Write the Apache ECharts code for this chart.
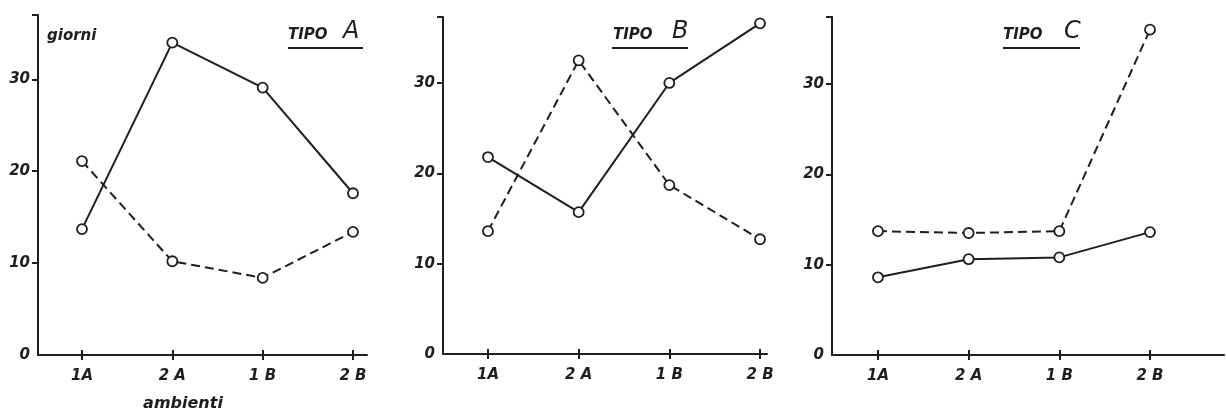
<!DOCTYPE html>
<html>
<head>
<meta charset="utf-8">
<script src="https://cdn.jsdelivr.net/npm/echarts@6/dist/echarts.min.js"></script>
<style>
html,body{margin:0;padding:0;background:#fff;}
#chart{width:1226px;height:412px;}
</style>
</head>
<body>
<div id="chart"></div>
<script>
const categories = ['1A', '2 A', '1 B', '2 B'];
const catPos = [0, 1, 2, 3];
const yTickLabels = [0, 10, 20, 30];
const panelTitles = ['A', 'B', 'C'];
const yAxisName = 'giorni';
const xAxisName = 'ambienti';

const tipoA_solid  = [13.7, 34.0, 29.1, 17.6];
const tipoA_dashed = [21.1, 10.2, 8.4, 13.4];
const tipoB_solid  = [21.8, 15.7, 30.0, 36.6];
const tipoB_dashed = [13.6, 32.5, 18.7, 12.7];
const tipoC_solid  = [8.6, 10.6, 10.8, 13.6];
const tipoC_dashed = [13.7, 13.5, 13.7, 36.0];

const INK = '#1e1e1e';
const FONT = 'DejaVu Sans';

const panels = [
  {grid:{left:38, top:15, width:329, height:340}, xmin:-0.487, xmax:3.155, ymax:37.0, solid:tipoA_solid, dashed:tipoA_dashed},
  {grid:{left:443, top:17, width:324, height:337}, xmin:-0.496, xmax:3.077, ymax:37.3, solid:tipoB_solid, dashed:tipoB_dashed},
  {grid:{left:832, top:17, width:392, height:338}, xmin:-0.507, xmax:3.816, ymax:37.4, solid:tipoC_solid, dashed:tipoC_dashed}
];

const grids = [], xAxes = [], yAxes = [], series = [];
panels.forEach((p, i) => {
  grids.push(p.grid);
  xAxes.push({
    type:'value', gridIndex:i, min:p.xmin, max:p.xmax, position:'bottom',
    splitLine:{show:false},
    axisLine:{show:true, onZero:false, lineStyle:{color:INK, width:2}},
    axisTick:{show:true, length:5, lineStyle:{color:INK, width:2}, customValues:catPos},
    axisLabel:{show:true, margin:14, color:INK, fontFamily:FONT, fontStyle:'italic', fontWeight:'bold', fontSize:15,
      customValues:catPos, formatter:(v)=>categories[Math.round(v)]}
  });
  xAxes.push({
    type:'value', gridIndex:i, min:p.xmin, max:p.xmax, position:'bottom',
    splitLine:{show:false},
    axisLine:{show:false, onZero:false},
    axisTick:{show:true, inside:true, length:5, lineStyle:{color:INK, width:2}, customValues:catPos},
    axisLabel:{show:false}
  });
  yAxes.push({
    type:'value', gridIndex:i, min:0, max:p.ymax, position:'left',
    splitLine:{show:false},
    axisLine:{show:true, onZero:false, lineStyle:{color:INK, width:2}},
    axisTick:{show:true, length:6, lineStyle:{color:INK, width:2}, customValues:[10, 20, 30, p.ymax]},
    axisLabel:{show:true, margin:8, color:INK, fontFamily:FONT, fontStyle:'italic', fontWeight:'bold', fontSize:15,
      customValues:yTickLabels}
  });
  const common = {
    type:'line', xAxisIndex:i*2, yAxisIndex:i, symbol:'circle', symbolSize:10,
    itemStyle:{color:'#fff', borderColor:INK, borderWidth:1.8},
    animation:false, silent:true
  };
  series.push(Object.assign({}, common, {
    data:p.solid.map((v, k) => [catPos[k], v]),
    lineStyle:{color:INK, width:2, type:'solid'}
  }));
  series.push(Object.assign({}, common, {
    data:p.dashed.map((v, k) => [catPos[k], v]),
    lineStyle:{color:INK, width:2, type:[9, 5]}
  }));
});

const titleGeo = [
  {tipoX:288, letterX:343, lineX1:288, lineX2:363},
  {tipoX:613, letterX:672, lineX1:612, lineX2:688},
  {tipoX:1003, letterX:1064, lineX1:1003, lineX2:1080}
];
const graphics = [];
titleGeo.forEach((g, i) => {
  graphics.push({type:'text', x:g.tipoX, y:43, style:{text:'TIPO', font:'italic bold 15px "' + FONT + '"', fill:INK, textVerticalAlign:'bottom'}});
  graphics.push({type:'text', x:g.letterX, y:44, style:{text:panelTitles[i], font:'italic 24px "' + FONT + '"', fill:INK, textVerticalAlign:'bottom'}});
  graphics.push({type:'line', shape:{x1:g.lineX1, y1:48, x2:g.lineX2, y2:48}, style:{stroke:INK, lineWidth:2}});
});
graphics.push({type:'text', x:47, y:29, style:{text:yAxisName, font:'italic bold 15px "' + FONT + '"', fill:INK}});
graphics.push({type:'text', x:183, y:404, style:{text:xAxisName, font:'italic bold 16px "' + FONT + '"', fill:INK, textAlign:'center', textVerticalAlign:'middle'}});

const chart = echarts.init(document.getElementById('chart'), null, {renderer:'canvas'});
chart.setOption({
  backgroundColor:'#fff',
  animation:false,
  grid:grids, xAxis:xAxes, yAxis:yAxes, series:series, graphic:graphics
});
</script>
</body>
</html>
